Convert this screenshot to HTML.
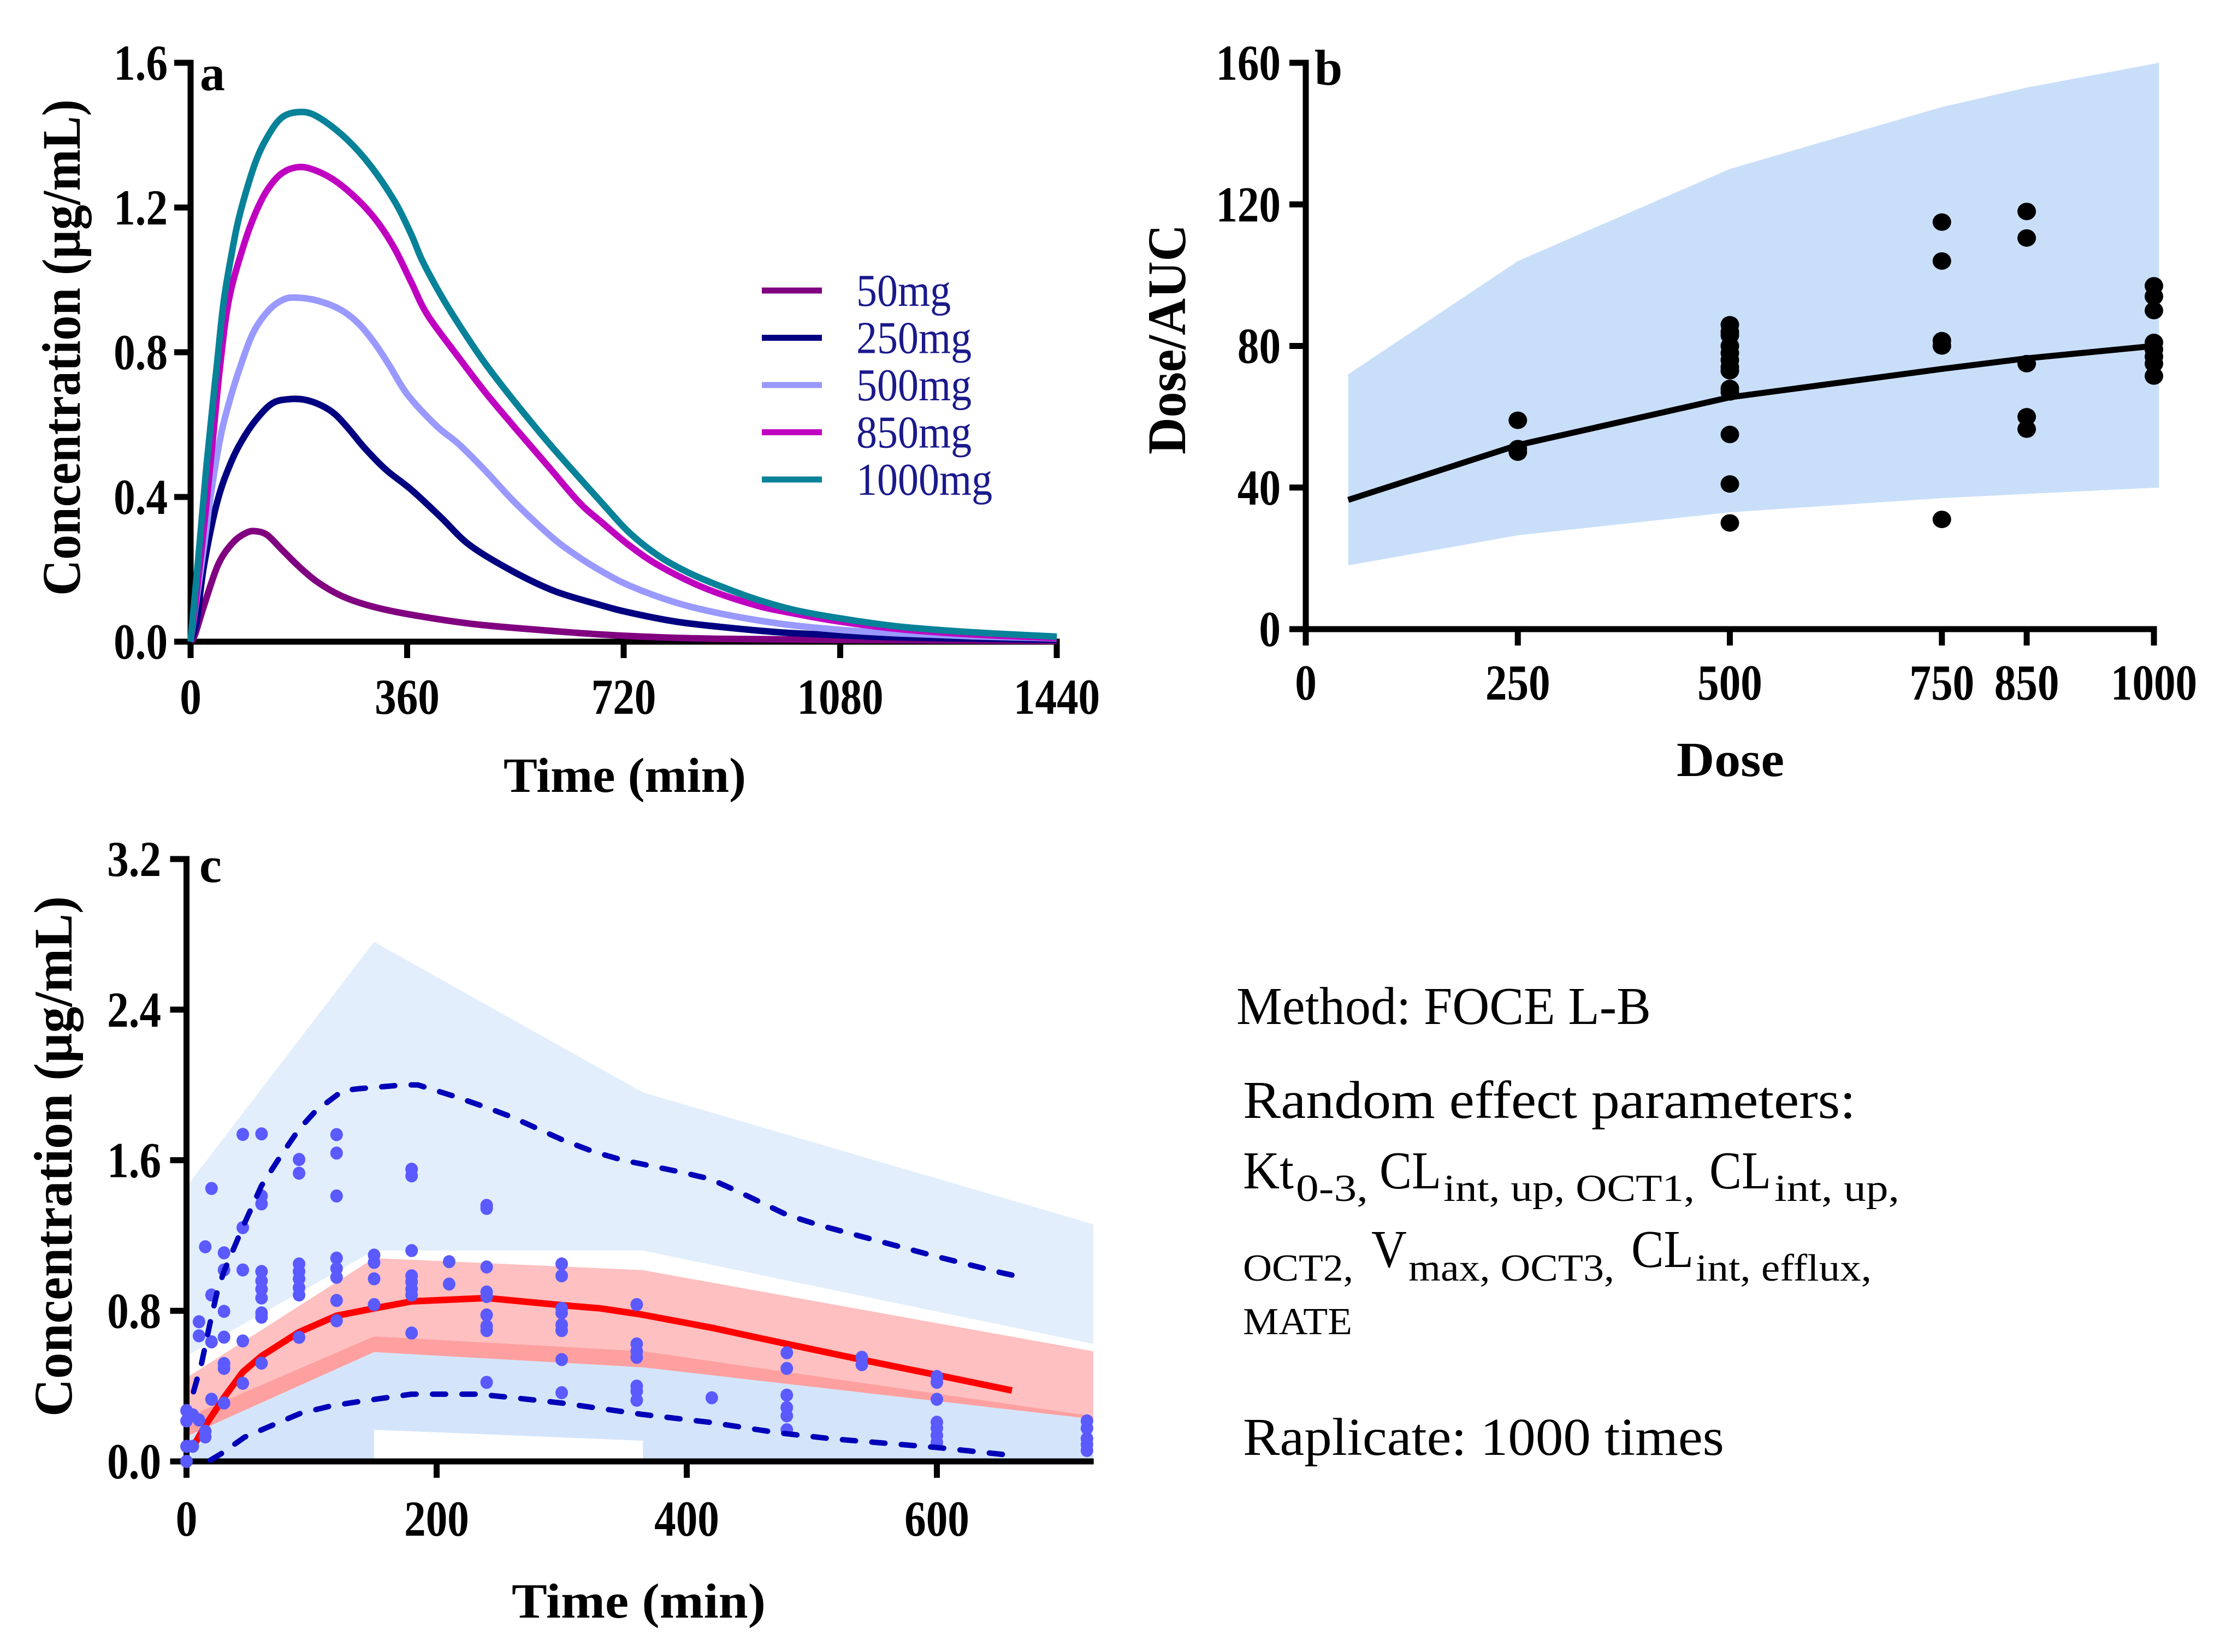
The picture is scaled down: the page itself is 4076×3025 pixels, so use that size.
<!DOCTYPE html>
<html lang="en">
<head>
<meta charset="utf-8">
<title>Concentration and dose charts</title>
<style>
html,body{margin:0;padding:0;background:#fff;}
svg{display:block;}
text{font-family:"Liberation Serif",serif;fill:#000;}
.b{font-weight:bold;}
</style>
</head>
<body>
<svg id="fig" xmlns="http://www.w3.org/2000/svg" width="4076" height="3025" viewBox="0 0 4076 3025">
<rect x="0" y="0" width="4076" height="3025" fill="#fff"/>
<g id="panelA"></g>
<g id="panelB"></g>
<g id="panelC"></g>

<text class="b" x="366" y="165" font-size="92">a</text>
<text class="b" x="922" y="1450" font-size="90" textLength="444" lengthAdjust="spacingAndGlyphs">Time (min)</text>
<text class="b" transform="translate(146,1091) rotate(-90)" font-size="100" textLength="909" lengthAdjust="spacingAndGlyphs">Concentration (µg/mL)</text>

<text class="b" x="2407" y="155" font-size="92">b</text>
<text class="b" x="3070" y="1421" font-size="90" textLength="197" lengthAdjust="spacingAndGlyphs">Dose</text>
<text class="b" transform="translate(2170,832) rotate(-90)" font-size="100" textLength="421" lengthAdjust="spacingAndGlyphs">Dose/AUC</text>

<text class="b" x="365" y="1615" font-size="92">c</text>
<text class="b" x="937" y="2962" font-size="90" textLength="465" lengthAdjust="spacingAndGlyphs">Time (min)</text>
<text class="b" transform="translate(131,2594) rotate(-90)" font-size="100" textLength="953" lengthAdjust="spacingAndGlyphs">Concentration (µg/mL)</text>

<g transform="translate(-3,0)">
<text x="2267" y="1875" font-size="98" textLength="759" lengthAdjust="spacingAndGlyphs">Method: FOCE L-B</text>
<text x="2279" y="2047" font-size="98" textLength="1122" lengthAdjust="spacingAndGlyphs">Random effect parameters:</text>
<g>
<text x="2279" y="2176" font-size="98" textLength="93" lengthAdjust="spacingAndGlyphs">Kt</text>
<text x="2376" y="2199" font-size="70" textLength="132" lengthAdjust="spacingAndGlyphs">0-3,</text>
<text x="2529" y="2176" font-size="98" textLength="113" lengthAdjust="spacingAndGlyphs">CL</text>
<text x="2646" y="2199" font-size="70" textLength="460" lengthAdjust="spacingAndGlyphs">int, up, OCT1,</text>
<text x="3133" y="2176" font-size="98" textLength="113" lengthAdjust="spacingAndGlyphs">CL</text>
<text x="3252" y="2199" font-size="70" textLength="229" lengthAdjust="spacingAndGlyphs">int, up,</text>
<text x="2279" y="2345" font-size="70" textLength="202" lengthAdjust="spacingAndGlyphs">OCT2,</text>
<text x="2514" y="2320" font-size="98" textLength="65" lengthAdjust="spacingAndGlyphs">V</text>
<text x="2582" y="2345" font-size="70" textLength="377" lengthAdjust="spacingAndGlyphs">max, OCT3,</text>
<text x="2990" y="2320" font-size="98" textLength="114" lengthAdjust="spacingAndGlyphs">CL</text>
<text x="3108" y="2345" font-size="70" textLength="322" lengthAdjust="spacingAndGlyphs">int, efflux,</text>
<text x="2279" y="2443" font-size="70" textLength="200" lengthAdjust="spacingAndGlyphs">MATE</text>
</g>
<text x="2279" y="2664" font-size="98" textLength="881" lengthAdjust="spacingAndGlyphs">Raplicate: 1000 times</text>
</g>
</svg>

<script>
// ---------- Panel a data ----------
const aXTicks = [0, 360, 720, 1080, 1440];
const aYTicks = [0, 0.4, 0.8, 1.2, 1.6];
const aYLabels = ['0.0', '0.4', '0.8', '1.2', '1.6'];
const doseLabels = ['50mg', '250mg', '500mg', '850mg', '1000mg'];
const t50 = [0, 7, 22, 46, 71, 94, 110, 128, 152, 180, 210, 249, 294, 355, 464, 569, 682, 781, 880, 1078, 1440];
const v50 = [0, 0.018, 0.098, 0.214, 0.275, 0.302, 0.305, 0.294, 0.254, 0.208, 0.166, 0.128, 0.101, 0.078, 0.05, 0.034, 0.02, 0.012, 0.008, 0.005, 0.002];
const t250 = [0, 10, 22, 44, 67, 89, 113, 137, 162, 189, 216, 240, 264, 289, 325, 367, 416, 464, 534, 605, 682, 731, 805, 880, 979, 1078, 1177, 1440];
const v250 = [0, 0.057, 0.208, 0.385, 0.495, 0.566, 0.622, 0.66, 0.67, 0.669, 0.654, 0.629, 0.586, 0.536, 0.475, 0.42, 0.344, 0.267, 0.196, 0.14, 0.101, 0.08, 0.056, 0.041, 0.026, 0.018, 0.012, 0.005];
const t500 = [0, 7, 22, 34, 49, 64, 83, 105, 131, 155, 176, 210, 249, 280, 307, 331, 361, 409, 446, 491, 539, 600, 640, 682, 731, 805, 880, 979, 1078, 1177, 1300, 1440];
const v500 = [0, 0.083, 0.26, 0.41, 0.56, 0.661, 0.762, 0.857, 0.918, 0.946, 0.951, 0.943, 0.918, 0.878, 0.823, 0.762, 0.682, 0.596, 0.546, 0.471, 0.385, 0.29, 0.24, 0.196, 0.154, 0.109, 0.078, 0.05, 0.033, 0.023, 0.015, 0.009];
const t850 = [0, 10, 25, 37, 49, 64, 89, 108, 128, 152, 181, 210, 243, 282, 313, 340, 367, 394, 446, 491, 537, 597, 646, 682, 731, 781, 855, 939, 1003, 1078, 1177, 1300, 1440];
const v850 = [0, 0.133, 0.36, 0.56, 0.762, 0.948, 1.099, 1.185, 1.25, 1.295, 1.312, 1.301, 1.271, 1.215, 1.155, 1.084, 0.993, 0.903, 0.785, 0.687, 0.596, 0.48, 0.385, 0.332, 0.264, 0.208, 0.148, 0.101, 0.078, 0.056, 0.035, 0.02, 0.01];
const t1000 = [0, 13, 25, 37, 44, 55, 69, 83, 107, 128, 152, 181, 210, 255, 298, 340, 367, 385, 416, 446, 488, 537, 597, 682, 731, 781, 830, 880, 939, 1003, 1078, 1177, 1300, 1440];
const v1000 = [0, 0.234, 0.46, 0.66, 0.77, 0.94, 1.079, 1.189, 1.321, 1.396, 1.449, 1.464, 1.452, 1.396, 1.318, 1.215, 1.125, 1.054, 0.958, 0.877, 0.773, 0.667, 0.546, 0.387, 0.299, 0.234, 0.189, 0.154, 0.118, 0.088, 0.065, 0.042, 0.026, 0.014];

// ---------- Panel b data ----------
const bXTicks = [0, 250, 500, 750, 850, 1000];
const bYTicks = [0, 40, 80, 120, 160];
const bandDose = [50, 250, 500, 750, 850, 1006];
const bandUpper = [72, 104, 130, 147.5, 153, 160];
const bandLower = [18, 26.5, 33, 37, 38.2, 40];
const medianDose = [50, 250, 500, 750, 850, 1000];
const medianValues = [36.5, 52, 65.5, 73.5, 76.5, 80];
const obsDose250 = [59, 51, 50];
const obsDose500 = [86, 84, 83, 80, 78, 76, 74, 73, 68, 67, 55, 41, 30];
const obsDose750 = [115, 104, 81.5, 80, 31];
const obsDose850 = [118, 110.5, 75, 60, 56.5];
const obsDose1000 = [97, 94, 90, 81, 79, 77, 75, 71.5];

// ---------- Panel c data ----------
const cXTicks = [0, 200, 400, 600];
const cYTicks = [0, 0.8, 1.6, 2.4, 3.2];
const cYLabels = ['0.0', '0.8', '1.6', '2.4', '3.2'];
const bandTime = [0, 150, 365, 725];
const outerUpperTop = [1.46, 2.76, 1.96, 1.26];
const outerUpperBottom = [0.56, 1.12, 1.12, 0.624];
const redTop = [0.444, 1.08, 1.016, 0.585];
const redBottom = [0.133, 0.581, 0.5, 0.225];
const outerLowerTop = [0.234, 0.664, 0.585, 0.24];
const lowerEdgeTime = [0, 150, 150, 365, 365, 725];
const lowerEdgeValue = [0, 0, 0.168, 0.11, 0, 0];
const medianTime = [5.6, 15, 30, 45, 60, 90, 120, 150, 180, 240, 300, 331, 364, 420, 480, 540, 600, 660];
const medianConc = [0.082, 0.19, 0.34, 0.475, 0.56, 0.687, 0.774, 0.813, 0.85, 0.868, 0.83, 0.813, 0.78, 0.71, 0.624, 0.54, 0.459, 0.377];
const upperDashTime = [5.6, 12, 19, 24.5, 30, 45, 60, 75, 90, 103, 125, 138, 174, 185, 214, 240, 260, 300, 325.6, 349, 364, 396, 419, 441, 480.6, 507, 600, 653, 660];
const upperDashConc = [0.37, 0.52, 0.74, 0.9, 1.01, 1.245, 1.465, 1.62, 1.765, 1.86, 1.97, 1.98, 2.0, 2.0, 1.94, 1.88, 1.83, 1.71, 1.645, 1.6, 1.58, 1.536, 1.5, 1.434, 1.308, 1.253, 1.088, 1.0, 0.99];
const lowerDashTime = [19, 28, 46.5, 68.6, 91, 115, 138, 180, 233, 257.6, 300, 364, 419, 473, 516, 600, 660];
const lowerDashConc = [0.006, 0.042, 0.129, 0.192, 0.255, 0.294, 0.318, 0.357, 0.357, 0.341, 0.31, 0.25, 0.207, 0.152, 0.12, 0.074, 0.032];
const obsTimes = [0, 5, 10, 15, 20, 30, 45, 60, 90, 120, 150, 180, 210, 240, 300, 360, 420, 480, 540, 600, 720];
const obs0 = [0, 0.08, 0.215, 0.27];
const obs5 = [0.08, 0.247];
const obs10 = [0.22, 0.667, 0.742];
const obs15 = [0.16, 0.13, 1.14];
const obs20 = [1.45, 0.884, 0.635, 0.33];
const obs30 = [0.31, 0.52, 0.494, 0.66, 0.797, 1.017, 1.108];
const obs45 = [0.415, 0.64, 1.017, 1.242, 1.737];
const obs60 = [0.522, 0.766, 0.789, 0.868, 0.915, 0.959, 1.009, 1.368, 1.41, 1.74];
const obs90 = [0.659, 0.884, 0.923, 0.97, 1.009, 1.049, 1.531, 1.604];
const obs120 = [0.747, 0.855, 0.978, 1.025, 1.08, 1.41, 1.638, 1.736];
const obs150 = [0.833, 0.97, 1.057, 1.096];
const obs180 = [0.682, 0.884, 0.915, 0.954, 0.986, 1.12, 1.517, 1.552];
const obs210 = [0.942, 1.061];
const obs240 = [0.42, 0.695, 0.719, 0.778, 0.876, 0.9, 1.033, 1.344, 1.36];
const obs300 = [0.365, 0.541, 0.695, 0.726, 0.789, 0.813, 0.986, 1.049];
const obs360 = [0.325, 0.373, 0.4, 0.553, 0.585, 0.624, 0.833];
const obs420 = [0.338];
const obs480 = [0.168, 0.242, 0.286, 0.352, 0.494, 0.577];
const obs540 = [0.514, 0.553];
const obs600 = [0.1, 0.137, 0.176, 0.208, 0.33, 0.42, 0.451];
const obs720 = [0.058, 0.09, 0.121, 0.176, 0.215];

// ---------- Helpers ----------
const NS = 'http://www.w3.org/2000/svg';
function shape(parent, tag, props) {
  const el = document.createElementNS(NS, tag);
  for (const k in props) el.setAttribute(k, props[k]);
  parent.appendChild(el);
  return el;
}
function scale(d0, d1, r0, r1) {
  return function (v) { return r0 + (v - d0) * (r1 - r0) / (d1 - d0); };
}
function linePath(xs, ys, sx, sy) {
  return xs.map(function (x, i) { return (i ? 'L' : 'M') + sx(x).toFixed(1) + ' ' + sy(ys[i]).toFixed(1); }).join(' ');
}
function smoothPath(xs, ys, sx, sy) {
  const p = xs.map(function (x, i) { return [sx(x), sy(ys[i])]; });
  let d = 'M' + p[0][0].toFixed(1) + ' ' + p[0][1].toFixed(1);
  for (let i = 0; i < p.length - 1; i++) {
    const p0 = p[Math.max(0, i - 1)], p1 = p[i], p2 = p[i + 1], p3 = p[Math.min(p.length - 1, i + 2)];
    const c1x = p1[0] + (p2[0] - p0[0]) / 6, c1y = p1[1] + (p2[1] - p0[1]) / 6;
    const c2x = p2[0] - (p3[0] - p1[0]) / 6, c2y = p2[1] - (p3[1] - p1[1]) / 6;
    d += ' C' + c1x.toFixed(1) + ' ' + c1y.toFixed(1) + ' ' + c2x.toFixed(1) + ' ' + c2y.toFixed(1) + ' ' + p2[0].toFixed(1) + ' ' + p2[1].toFixed(1);
  }
  return d;
}
function bandPath(xsTop, top, xsBottom, bottom, sx, sy) {
  const a = xsTop.map(function (x, i) { return sx(x).toFixed(1) + ',' + sy(top[i]).toFixed(1); });
  const b = xsBottom.map(function (x, i) { return sx(x).toFixed(1) + ',' + sy(bottom[i]).toFixed(1); }).reverse();
  return a.concat(b).join(' ');
}
function drawAxes(parent, prefix, sx, sy, xTicks, yTicks, xLabels, yLabels, xEnd, yEnd, xBase, yLabelRight, stretch) {
  const x0 = sx(0), y0 = sy(0), W = 11, L = 30;
  const yAxis = shape(parent, 'line', {x1: x0, x2: x0, y1: sy(yEnd) - W / 2, y2: y0 + L, stroke: '#000', 'stroke-width': W});
  
  
  const xAxis = shape(parent, 'line', {x1: x0 - L, x2: sx(xEnd) + W / 2, y1: y0, y2: y0, stroke: '#000', 'stroke-width': W});
  
  
  yTicks.forEach(function (v, i) {
    const t = shape(parent, 'line', {x1: x0 - L, x2: x0, y1: sy(v), y2: sy(v), stroke: '#000', 'stroke-width': W});
    
    
    const lab = shape(parent, 'text', {transform: 'translate(' + yLabelRight + ',' + (sy(v) + 31) + ') scale(' + stretch + ',1)', 'text-anchor': 'end', 'font-size': 92, 'font-weight': 'bold'});
    
    
    lab.textContent = yLabels[i];
  });
  xTicks.forEach(function (v, i) {
    const t = shape(parent, 'line', {x1: sx(v), x2: sx(v), y1: y0, y2: y0 + L, stroke: '#000', 'stroke-width': W});
    
    
    const lab = shape(parent, 'text', {transform: 'translate(' + sx(v) + ',' + xBase + ') scale(' + stretch + ',1)', 'text-anchor': 'middle', 'font-size': 92, 'font-weight': 'bold'});
    
    
    lab.textContent = xLabels[i];
  });
}

// ---------- Panel a ----------
(function () {
  const g = document.getElementById('panelA');
  const sx = scale(0, 1440, 349, 1935);
  const sy = scale(0, 1.6, 1175, 115);
  drawAxes(g, 'panel-a', sx, sy, aXTicks, aYTicks, aXTicks.map(String), aYLabels, 1440, 1.6, 1307, 307, 0.86);
  const series = [
    {label: doseLabels[0], t: t50, v: v50, color: '#800080'},
    {label: doseLabels[1], t: t250, v: v250, color: '#000080'},
    {label: doseLabels[2], t: t500, v: v500, color: '#9999ff'},
    {label: doseLabels[3], t: t850, v: v850, color: '#c000c0'},
    {label: doseLabels[4], t: t1000, v: v1000, color: '#088299'}
  ];
  series.forEach(function (s, i) {
    const path = shape(g, 'path', {d: smoothPath(s.t, s.v, sx, sy), fill: 'none', stroke: s.color, 'stroke-width': 12, 'stroke-linejoin': 'round'});
    
    
    const legendY = 532 + i * 86.5;
    const swatch = shape(g, 'line', {x1: 1395, x2: 1505, y1: legendY, y2: legendY, stroke: s.color, 'stroke-width': 11});
    
    
    const txt = shape(g, 'text', {transform: 'translate(1568,' + (legendY + 28) + ') scale(0.905,1)', 'font-size': 84, style: 'fill:#1a1a8c'});
    
    
    txt.textContent = s.label;
  });
})();

// ---------- Panel b ----------
(function () {
  const g = document.getElementById('panelB');
  const sx = scale(0, 1000, 2391, 3944);
  const sy = scale(0, 160, 1152, 115);
  const band = shape(g, 'polygon', {points: bandPath(bandDose, bandUpper, bandDose, bandLower, sx, sy), fill: '#c9dff9'});
  
  
  drawAxes(g, 'panel-b', sx, sy, bXTicks, bYTicks, bXTicks.map(String), bYTicks.map(String), 1000, 160, 1281, 2345, 0.86);
  const med = shape(g, 'path', {d: linePath(medianDose, medianValues, sx, sy), fill: 'none', stroke: '#000', 'stroke-width': 11, 'stroke-linejoin': 'round'});
  
  
  const groups = [[250, obsDose250], [500, obsDose500], [750, obsDose750], [850, obsDose850], [1000, obsDose1000]];
  groups.forEach(function (gr) {
    gr[1].forEach(function (v) {
      const dot = shape(g, 'ellipse', {cx: sx(gr[0]), cy: sy(v), rx: 17, ry: 16, fill: '#000'});
      
      
    });
  });
})();

// ---------- Panel c ----------
(function () {
  const g = document.getElementById('panelC');
  const sx = scale(0, 200, 341.5, 799.5);
  const sy = scale(0, 3.2, 2676, 1573);
  const upper = shape(g, 'polygon', {points: bandPath(bandTime, outerUpperTop, bandTime, outerUpperBottom, sx, sy), fill: '#e2eefb'});
  
  
  const lower = shape(g, 'polygon', {points: bandPath(bandTime, outerLowerTop, lowerEdgeTime, lowerEdgeValue, sx, sy), fill: '#d4e5fb'});
  
  
  const red = shape(g, 'polygon', {points: bandPath(bandTime, redTop, bandTime, redBottom, sx, sy), fill: '#fec0c0'});
  
  
  const overlap = shape(g, 'polygon', {points: bandPath(bandTime, outerLowerTop, bandTime, redBottom, sx, sy), fill: '#fea0a0'});
  
  
  drawAxes(g, 'panel-c', sx, sy, cXTicks, cYTicks, cXTicks.map(String), cYLabels, 723, 3.2, 2812, 295, 0.86);
  const med = shape(g, 'path', {d: linePath(medianTime, medianConc, sx, sy), fill: 'none', stroke: '#ff0000', 'stroke-width': 12, 'stroke-linejoin': 'round'});
  
  
  const obsValues = [obs0, obs5, obs10, obs15, obs20, obs30, obs45, obs60, obs90, obs120, obs150, obs180, obs210, obs240, obs300, obs360, obs420, obs480, obs540, obs600, obs720];
  obsTimes.forEach(function (t, i) {
    obsValues[i].forEach(function (v) {
      const dot = shape(g, 'ellipse', {cx: sx(t), cy: sy(v), rx: 11.5, ry: 12, fill: '#5a5aff'});
      
      
    });
  });
  const up = shape(g, 'path', {d: linePath(upperDashTime, upperDashConc, sx, sy), fill: 'none', stroke: '#0000b8', 'stroke-width': 10, 'stroke-dasharray': '24 30', 'stroke-linecap': 'round'});
  
  
  const lo = shape(g, 'path', {d: linePath(lowerDashTime, lowerDashConc, sx, sy), fill: 'none', stroke: '#0000b8', 'stroke-width': 10, 'stroke-dasharray': '24 30', 'stroke-linecap': 'round'});
  
  
})();
</script>
</body>
</html>
